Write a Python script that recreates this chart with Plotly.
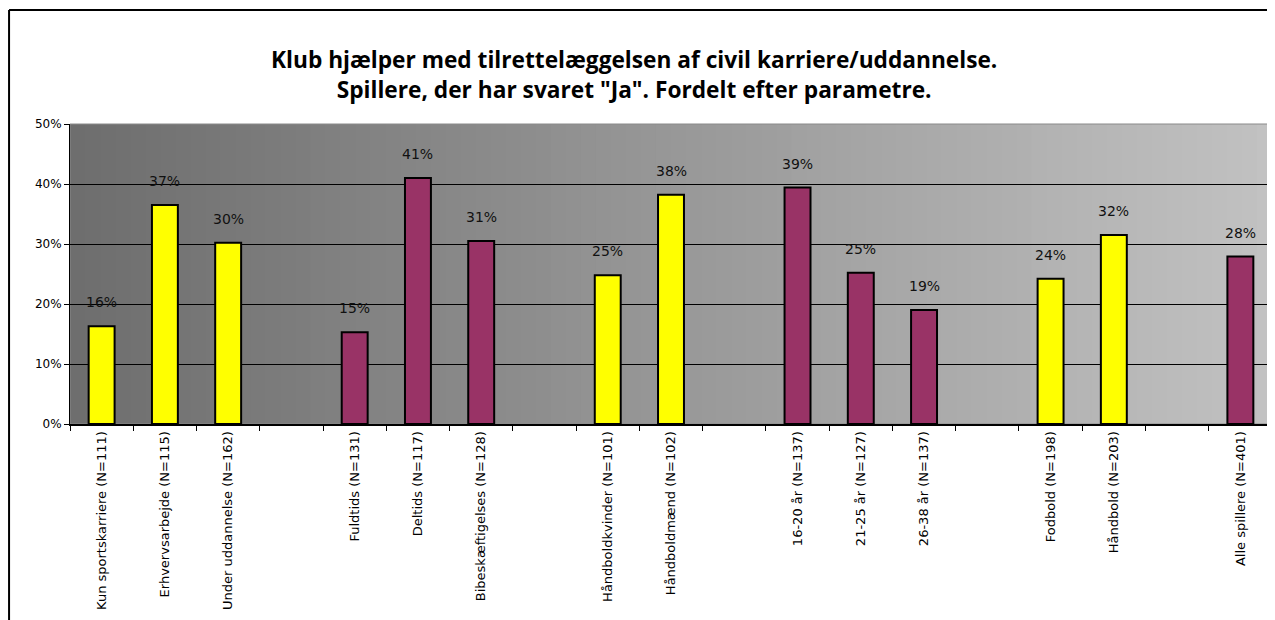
import plotly.graph_objects as go

categories = [
    "Kun sportskarriere (N=111)", "Erhvervsarbejde (N=115)", "Under uddannelse (N=162)", " ",
    "Fuldtids (N=131)", "Deltids (N=117)", "Bibeskæftigelses (N=128)", "  ",
    "Håndboldkvinder (N=101)", "Håndboldmænd (N=102)", "   ",
    "16-20 år (N=137)", "21-25 år (N=127)", "26-38 år (N=137)", "    ",
    "Fodbold (N=198)", "Håndbold (N=203)", "     ",
    "Alle spillere (N=401)",
]
bar_cats = [c for c in categories if c.strip()]
values = [16.3, 36.5, 30.2, 15.3, 41.0, 30.5, 24.8, 38.2, 39.4, 25.2, 19.0, 24.2, 31.5, 27.9]
labels = ["16%", "37%", "30%", "15%", "41%", "31%", "25%", "38%", "39%", "25%", "19%", "24%", "32%", "28%"]
groups = ["y", "y", "y", "p", "p", "p", "y", "y", "p", "p", "p", "y", "y", "p"]

YELLOW = "#FFFF00"
PURPLE = "#993366"
colors = [YELLOW if g == "y" else PURPLE for g in groups]

fig = go.Figure()
fig.add_trace(
    go.Bar(
        x=bar_cats,
        y=[v / 100 for v in values],
        marker=dict(color=colors, line=dict(color="black", width=2)),
        width=0.41,
        hoverinfo="skip",
    )
)

# value labels above the bars
annotations = [
    dict(x=c, y=v / 100, text=t, xref="x", yref="y", showarrow=False,
         yanchor="middle", yshift=24,
         font=dict(family="DejaVu Sans", size=14, color="#111111"))
    for c, v, t in zip(bar_cats, values, labels)
]
annotations.append(dict(
    text="<b>Klub hjælper med tilrettelæggelsen af civil karriere/uddannelse.<br>"
         "Spillere, der har svaret \"Ja\". Fordelt efter parametre.</b>",
    xref="paper", yref="paper", x=0.4696, y=1.165, xanchor="center", yanchor="middle",
    showarrow=False, font=dict(family="Open Sans", size=22.7, color="black"),
))

# gradient background of the plot area
n = 80
shapes = []
for i in range(n):
    t = i / (n - 1)
    g = int(0x6E + (0xC2 - 0x6E) * t)
    shapes.append(dict(
        type="rect", xref="x domain", yref="y domain",
        x0=i / n, x1=(i + 1) / n + 0.002, y0=0, y1=1,
        fillcolor=f"rgb({g},{g},{g})", line=dict(width=0), layer="below",
    ))
shapes.append(dict(type="rect", xref="x domain", yref="y domain", x0=0, x1=1, y0=0, y1=1,
                   line=dict(color="#8a8a8a", width=1), layer="below"))
# outer frame of the chart (left and top)
shapes.append(dict(type="line", xref="paper", yref="paper", x0=-0.0507, x1=-0.0507, y0=-0.7, y1=1.38,
                   line=dict(color="black", width=2)))
shapes.append(dict(type="line", xref="paper", yref="paper", x0=-0.0507, x1=1.02, y0=1.38, y1=1.38,
                   line=dict(color="black", width=2)))

fig.update_layout(
    width=1275,
    height=620,
    margin=dict(l=62, r=11, t=116, b=204),
    paper_bgcolor="white",
    plot_bgcolor="#999999",
    showlegend=False,
    shapes=shapes,
    annotations=annotations,
)
fig.update_xaxes(
    type="category",
    categoryorder="array",
    categoryarray=categories,
    range=[-0.5, len(categories) - 0.5],
    tickson="boundaries",
    ticks="outside",
    ticklen=5,
    tickcolor="black",
    tickangle=-90,
    tickfont=dict(family="DejaVu Sans", size=13, color="black"),
    showline=True,
    linecolor="black",
    linewidth=2,
    showgrid=False,
)
fig.update_yaxes(
    range=[0, 0.5],
    dtick=0.1,
    tickformat=".0%",
    ticks="outside",
    ticklen=5,
    tickcolor="black",
    tickfont=dict(family="DejaVu Sans", size=12, color="black"),
    showline=True,
    linecolor="black",
    linewidth=1,
    gridcolor="black",
    gridwidth=1,
    zeroline=False,
)

fig.write_html("out.html")
